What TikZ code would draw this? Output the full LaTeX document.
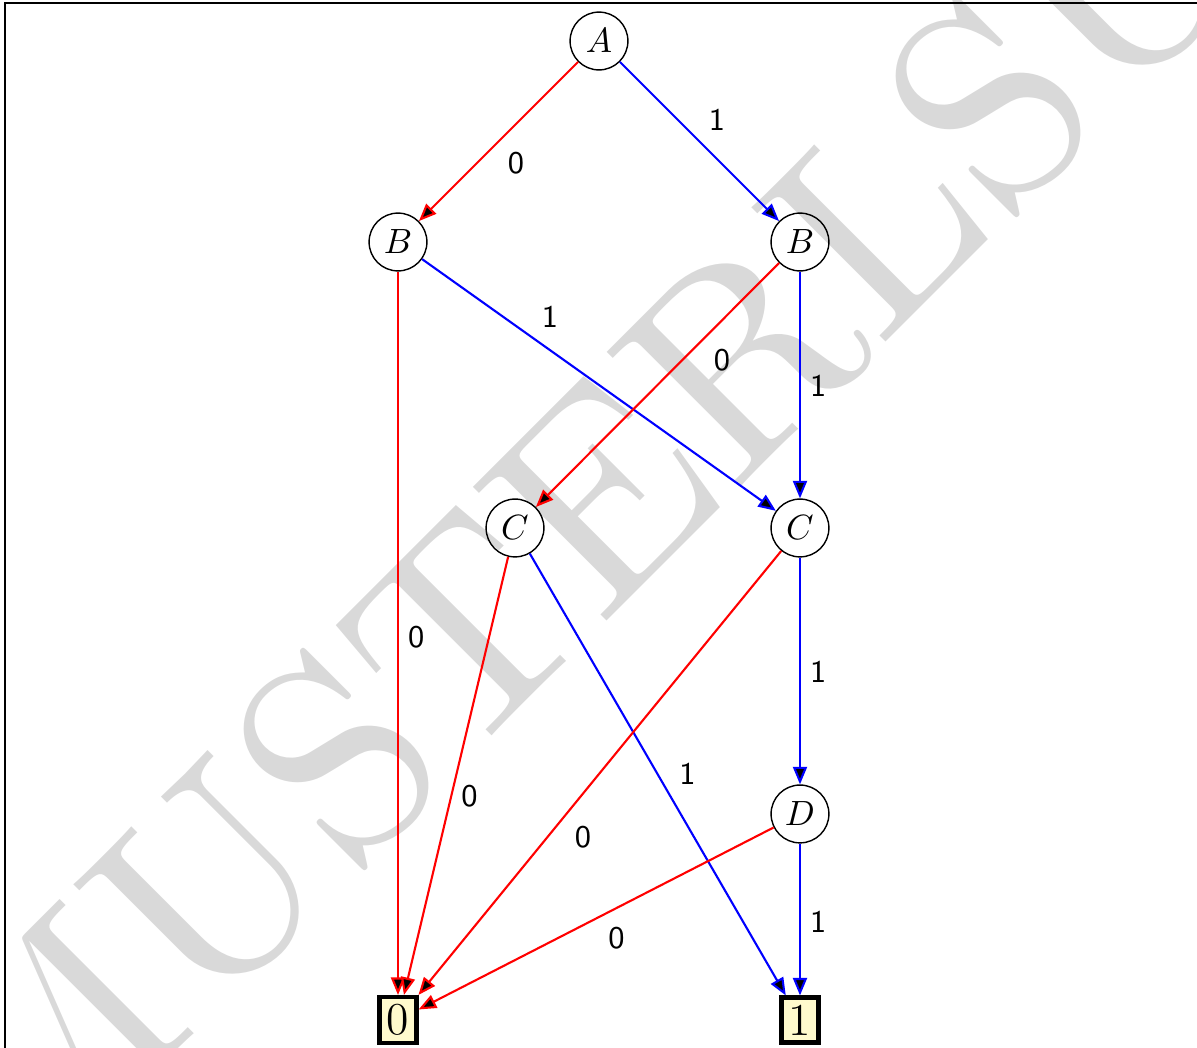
\documentclass[tikz,border=0pt]{standalone}
\usepackage{tikz}
\usetikzlibrary{arrows.meta, positioning}

\definecolor{wmgray}{gray}{0.85}
\definecolor{termfill}{RGB}{255,250,205}

\begin{document}
\begin{tikzpicture}[
        bddnode/.style={circle, draw, thin, minimum size=16.5pt, inner sep=1pt},
        termnode/.style={rectangle, draw, line width=1.2pt, fill=termfill, inner sep=2.1pt, font=\fontsize{13}{15}\selectfont},
        lo/.style={red, semithick, -{Triangle[length=5pt, width=4pt, fill=black]}},
        hi/.style={blue, semithick, -{Triangle[length=5pt, width=4pt, fill=black]}},
        lbl/.style={font=\sffamily\small, text=black, inner sep=2.6pt},
        node distance=2cm, on grid
    ]
    \useasboundingbox (0,0) rectangle (12,-10.506);

    % Wasserzeichen und Rahmen
    \coordinate (wmorigin) at (0.177,-12.13);
    \begin{scope}
        \clip (0,0) rectangle (12,-10.506);
        \node[rotate=45, scale=7.93, transform shape, anchor=base west, inner sep=0pt, text=wmgray, font=\fontsize{10}{10}\selectfont] (wm) at (wmorigin) {MUSTERLSUNG};
        \draw[line width=0.4pt] (0.05,-11) |- (13,-0.03);
    \end{scope}

    % Knoten
    \node[bddnode] (A) at (6.005,-0.411) {$A$};
    \node[bddnode, below left=2.015cm and 2.015cm of A] (B1) {$B$};
    \node[bddnode, right=4.03cm of B1] (B2) {$B$};
    \node[bddnode, below=2.867cm of B2] (C2) {$C$};
    \node[bddnode, left=2.857cm of C2] (C1) {$C$};
    \node[bddnode, below=2.867cm of C2] (D) {$D$};
    \node[termnode, below=2.066cm of D] (T1) {1};
    \node[termnode, left=4.03cm of T1] (T0) {0};

    % Kanten
    \draw[lo] (A) -- node[lbl, pos=0.505, below right] {0} (B1);
    \draw[hi] (A) -- node[lbl, pos=0.495, above right] {1} (B2);
    \draw[lo] (B1) -- node[lbl, pos=0.505, right] {0} (T0);
    \draw[hi] (B1) -- node[lbl, pos=0.31, above right] {1} (C2);
    \draw[lo] (B2) -- node[lbl, pos=0.31, below right] {0} (C1);
    \draw[hi] (B2) -- node[lbl, pos=0.503, right] {1} (C2);
    \draw[lo] (C1) -- node[lbl, pos=0.546, right] {0} (T0);
    \draw[hi] (C1) -- node[lbl, pos=0.545, above right] {1} (T1);
    \draw[lo] (C2) -- node[lbl, pos=0.597, below right] {0} (T0);
    \draw[hi] (C2) -- node[lbl, pos=0.503, right] {1} (D);
    \draw[lo] (D) -- node[lbl, pos=0.494, below right] {0} (T0);
    \draw[hi] (D) -- node[lbl, pos=0.515, right] {1} (T1);
\end{tikzpicture}
\end{document}
